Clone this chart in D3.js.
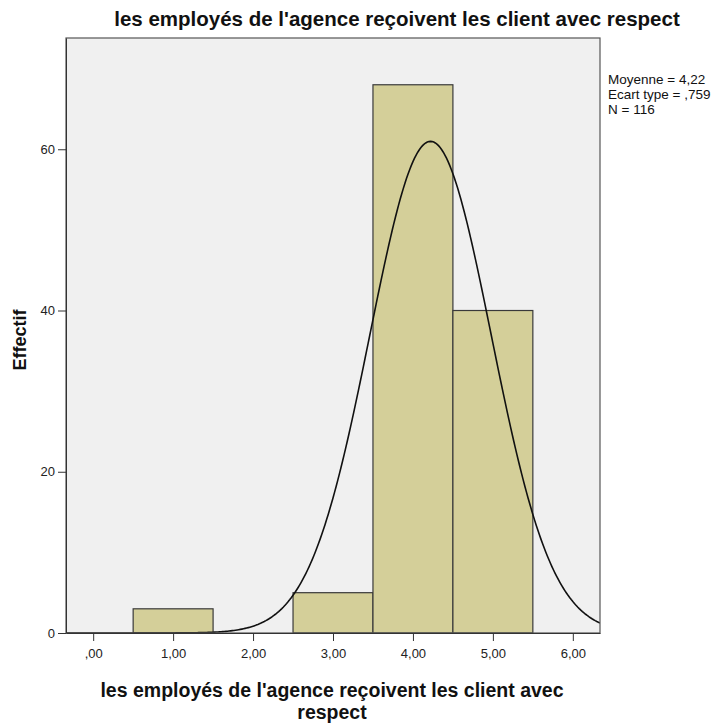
<!DOCTYPE html>
<html lang="fr">
<head>
    <meta charset="UTF-8">
    <title>Histogramme</title>
    <script src="https://cdn.jsdelivr.net/npm/d3@7"></script>
    <style>
        body { margin: 0; background: #fff; }
        text { font-family: "Liberation Sans", Arial, sans-serif; }
    </style>
</head>
<body>
<svg width="715" height="724"></svg>
<script>
    // classes de l'histogramme (bornes) et effectifs
    var binStart = [0.5, 1.5, 2.5, 3.5, 4.5];
    var binEnd = [1.5, 2.5, 3.5, 4.5, 5.5];
    var counts = [3, 0, 5, 68, 40];

    var xTicks = [0, 1, 2, 3, 4, 5, 6];
    var xTickLabels = [",00", "1,00", "2,00", "3,00", "4,00", "5,00", "6,00"];
    var yTicks = [0, 20, 40, 60];

    var stats = ["Moyenne = 4,22", "Ecart type = ,759", "N = 116"];
    var mean = 4.22, sd = 0.759, n = 116;

    var svg = d3.select("svg");
    var pLeft = 66, pRight = 600, pTop = 38, pBottom = 633;

    var x = d3.scaleLinear().domain([-0.34, 6.34]).range([pLeft, pRight]);
    var y = d3.scaleLinear().domain([0, 73.8]).range([pBottom, pTop]);

    // fond du graphique
    svg.append("rect")
        .attr("x", pLeft).attr("y", pTop)
        .attr("width", pRight - pLeft).attr("height", pBottom - pTop)
        .attr("fill", "#f0f0f0");

    svg.append("clipPath").attr("id", "clip")
        .append("rect")
        .attr("x", pLeft).attr("y", pTop)
        .attr("width", pRight - pLeft).attr("height", pBottom - pTop);

    var bins = counts.map(function (c, i) {
        return {x0: binStart[i], x1: binEnd[i], n: c};
    }).filter(function (b) { return b.n > 0; });

    // barres
    svg.selectAll(".bar")
        .data(bins)
        .enter().append("rect")
        .attr("class", "bar")
        .attr("x", function (d) { return x(d.x0); })
        .attr("y", function (d) { return y(d.n); })
        .attr("width", function (d) { return x(d.x1) - x(d.x0); })
        .attr("height", function (d) { return y(0) - y(d.n); })
        .attr("fill", "#d4cf99")
        .attr("stroke", "#3a3a3a")
        .attr("stroke-width", 1.2);

    // courbe normale
    var pts = d3.range(-0.34, 6.36, 0.02).map(function (v) {
        var z = (v - mean) / sd;
        return [v, n / (sd * Math.sqrt(2 * Math.PI)) * Math.exp(-0.5 * z * z)];
    });
    svg.append("path")
        .datum(pts)
        .attr("clip-path", "url(#clip)")
        .attr("fill", "none")
        .attr("stroke", "#111")
        .attr("stroke-width", 1.6)
        .attr("d", d3.line()
            .x(function (d) { return x(d[0]); })
            .y(function (d) { return y(d[1]); }));

    // cadre
    svg.append("rect")
        .attr("x", pLeft).attr("y", pTop)
        .attr("width", pRight - pLeft).attr("height", pBottom - pTop)
        .attr("fill", "none")
        .attr("stroke", "#555")
        .attr("stroke-width", 1.2);

    // axes
    var xAxis = d3.axisBottom(x).tickValues(xTicks)
        .tickFormat(function (d, i) { return xTickLabels[i]; })
        .tickSize(8).tickPadding(8).tickSizeOuter(0);
    var gx = svg.append("g").attr("transform", "translate(0," + pBottom + ")").call(xAxis);
    gx.select(".domain").attr("stroke", "#333");
    gx.selectAll(".tick line").attr("stroke", "#333");
    gx.selectAll("text").attr("font-size", 13).attr("fill", "#222")
        .style("font-family", "'Liberation Sans', Arial, sans-serif");

    var yAxis = d3.axisLeft(y).tickValues(yTicks).tickSize(8).tickPadding(3).tickSizeOuter(0);
    var gy = svg.append("g").attr("transform", "translate(" + pLeft + ",0)").call(yAxis);
    gy.select(".domain").attr("stroke", "#333");
    gy.selectAll(".tick line").attr("stroke", "#333");
    gy.selectAll("text").attr("font-size", 13).attr("fill", "#222")
        .style("font-family", "'Liberation Sans', Arial, sans-serif");

    // titre
    svg.append("text")
        .attr("x", 397).attr("y", 26)
        .attr("text-anchor", "middle")
        .attr("font-size", 20.5)
        .attr("font-weight", "bold")
        .attr("fill", "#111")
        .text("les employés de l'agence reçoivent les client avec respect");

    // titres des axes
    svg.append("text")
        .attr("transform", "translate(26,340) rotate(-90)")
        .attr("text-anchor", "middle")
        .attr("font-size", 18)
        .attr("font-weight", "bold")
        .attr("fill", "#111")
        .text("Effectif");

    var xl = svg.append("text")
        .attr("text-anchor", "middle")
        .attr("font-size", 19.5)
        .attr("font-weight", "bold")
        .attr("fill", "#111");
    xl.append("tspan").attr("x", 332).attr("y", 697)
        .text("les employés de l'agence reçoivent les client avec");
    xl.append("tspan").attr("x", 332).attr("y", 719).text("respect");

    // statistiques
    svg.selectAll(".stat")
        .data(stats)
        .enter().append("text")
        .attr("class", "stat")
        .attr("x", 608)
        .attr("y", function (d, i) { return 84 + i * 15; })
        .attr("font-size", 13.5)
        .attr("fill", "#111")
        .text(function (d) { return d; });
</script>
</body>
</html>
